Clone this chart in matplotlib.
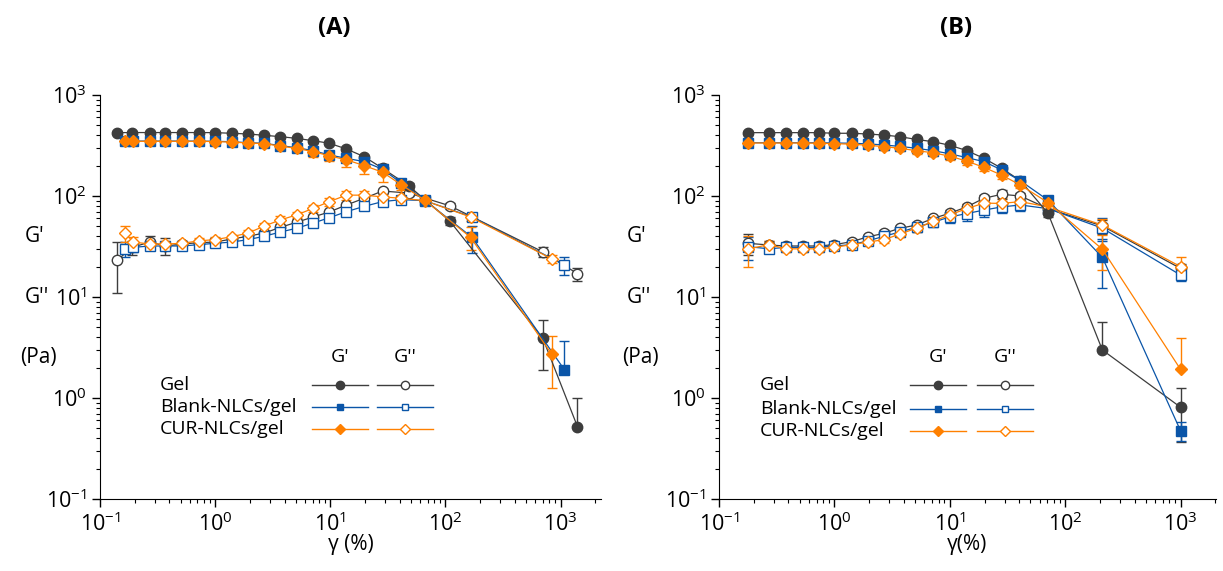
import numpy as np
import matplotlib.pyplot as plt

plt.rcParams['font.family'] = ['Open Sans', 'DejaVu Sans']
plt.rcParams['axes.unicode_minus'] = False

# ---------------- panel A ----------------
xa_gel = [0.14, 0.19, 0.27, 0.37, 0.52, 0.72, 1.0, 1.39, 1.94, 2.67, 3.69, 5.1, 7.1, 9.8,
          13.8, 19.7, 28.4, 48, 109, 700, 1400]
xa_blank = [0.165, 0.194, 0.27, 0.37, 0.52, 0.72, 1.0, 1.39, 1.94, 2.67, 3.69, 5.1, 7.1, 9.8,
            13.8, 19.7, 28.4, 41, 66, 170, 1080]
xa_cur = [0.165, 0.194, 0.27, 0.37, 0.52, 0.72, 1.0, 1.39, 1.94, 2.67, 3.69, 5.1, 7.1, 9.8,
          13.8, 19.7, 28.4, 41, 66, 165, 840]

a_gel_g1 = [424, 425, 425, 425, 425, 425, 424, 418, 411, 399, 387, 372, 353, 333, 292, 245, 188, 126, 56.5, 3.9, 0.52]
a_gel_g1_err = [15, 15, 15, 15, 15, 15, 15, 15, 15, 15, 15, 15, 15, 15, 15, 12, 10, 8, 5, 2.0, 0.48]
a_gel_g2 = [23, 31, 35, 32, 33.5, 34.5, 35, 37.5, 40, 43, 49, 55, 62, 69.5, 81.5, 95, 112, 107, 80, 28, 17]
a_gel_g2_err = [12, 5, 5, 6, 2, 2, 2, 2, 2, 2, 2, 3, 3, 3, 4, 5, 6, 6, 5, 3, 2.5]

a_blank_g1 = [351, 350, 350, 350, 350, 350, 348, 345, 337, 333, 315, 301, 281, 255, 236, 219, 184, 135, 91, 39, 1.9]
a_blank_g1_err = [20, 20, 20, 20, 20, 20, 20, 20, 20, 20, 20, 20, 20, 20, 20, 20, 15, 10, 6, 12, 1.8]
a_blank_g2 = [30, 31, 32, 32, 32, 33, 34, 35, 37, 40, 44, 48, 54, 61, 70, 79, 88, 92, 90, 62, 20.7]
a_blank_g2_err = [5, 3, 2, 2, 2, 2, 2, 2, 2, 2, 3, 3, 3, 4, 5, 5, 6, 6, 6, 5, 4]

a_cur_g1 = [350, 348, 348, 348, 348, 348, 346, 342, 335, 330, 312, 296, 275, 250, 228, 200, 172, 130, 91, 39, 2.7]
a_cur_g1_err = [25, 25, 25, 25, 25, 25, 25, 25, 25, 25, 25, 25, 30, 30, 35, 35, 35, 15, 8, 10, 1.45]
a_cur_g2 = [43, 35, 33.5, 33.5, 34, 36, 37, 39.5, 43, 50.5, 58, 65, 75.5, 88, 102, 102, 98, 95, 90, 62, 23.8]
a_cur_g2_err = [8, 4, 2, 2, 2, 2, 2, 2, 3, 4, 5, 5, 6, 8, 10, 10, 8, 6, 6, 5, 2]

# ---------------- panel B ----------------
xb = [0.18, 0.272, 0.38, 0.53, 0.73, 1.0, 1.41, 1.96, 2.7, 3.69, 5.15, 7.17, 10, 14,
      19.8, 28.2, 40.9, 71, 210, 1000]

b_gel_g1 = [424, 424, 424, 424, 424, 418, 418, 411, 401, 387, 363, 345, 318, 282, 236, 188, 142, 67.5, 2.99, 0.81]
b_gel_g1_err = [15, 15, 15, 15, 15, 15, 15, 15, 15, 15, 15, 15, 15, 15, 12, 10, 8, 5, 2.7, 0.44]
b_gel_g2 = [34, 32.7, 32, 32, 32, 33, 35.3, 39.5, 42.7, 47.9, 51.6, 60, 67.5, 78, 95, 104, 100, 75, 50.5, 19.2]
b_gel_g2_err = [8, 3, 2, 2, 2, 2, 2, 2, 3, 3, 3, 4, 5, 6, 8, 10, 8, 6, 8, 2]

b_blank_g1 = [337, 337, 337, 337, 337, 335, 333, 328, 320, 310, 297, 281, 262, 240, 219, 181, 141.6, 91, 24.7, 0.474]
b_blank_g1_err = [20, 20, 20, 20, 20, 20, 20, 20, 20, 20, 20, 20, 20, 20, 15, 12, 8, 6, 12.5, 0.1]
b_blank_g2 = [31.5, 30, 31, 31, 31, 32, 33, 36, 40, 44, 49, 55, 62, 67, 72.6, 78, 81.5, 75, 48, 16.5]
b_blank_g2_err = [8, 3, 2, 2, 2, 2, 2, 3, 3, 4, 5, 6, 8, 10, 10, 10, 10, 6, 12, 2]

b_cur_g1 = [335, 335, 335, 335, 333, 330, 326, 318, 308, 297, 281, 268, 248, 222, 192, 161, 128.5, 86, 29.7, 1.92]
b_cur_g1_err = [20, 20, 20, 20, 20, 20, 20, 20, 20, 20, 20, 20, 20, 20, 15, 12, 8, 6, 11, 2.03]
b_cur_g2 = [30, 33, 30, 30, 30, 31, 33, 35, 37, 42, 48, 56, 65, 75, 85, 84.5, 88, 78, 51.6, 20]
b_cur_g2_err = [10, 3, 2, 2, 2, 2, 2, 2, 3, 3, 4, 5, 6, 8, 10, 10, 8, 6, 8, 5]

samples = ["Gel", "Blank-NLCs/gel", "CUR-NLCs/gel"]
colors = ["#3d3d3d", "#0a55a8", "#ff8000"]
markers = ["o", "s", "D"]
msizes = [7.5, 6.5, 6.5]


def draw(ax, x, y, err, i, filled):
    y = np.asarray(y, dtype=float)
    err = np.asarray(err, dtype=float)
    # lower bar dropped when it would run off the log axis (as in the original)
    lo = np.where(y - err > 0.2 * y, err, 0.0)
    c = colors[i]
    ax.errorbar(x, y, yerr=[lo, err], color=c, lw=0.9, marker=markers[i], ms=msizes[i],
                mfc=c if filled else "white", mec=c, mew=1.0, capsize=3.5,
                elinewidth=1.0, capthick=1.0, zorder=3 if filled else 2)


def legend(ax, x_text, x_g1, x_g2, y_head, ys):
    half = 0.056
    ax.text(x_g1, y_head, "G'", transform=ax.transAxes, ha="center", va="center", fontsize=14)
    ax.text(x_g2, y_head, "G''", transform=ax.transAxes, ha="center", va="center", fontsize=14)
    for i, name in enumerate(samples):
        yy = ys[i]
        ax.text(x_text, yy, name, transform=ax.transAxes, ha="left", va="center", fontsize=14)
        for xc, filled in ((x_g1, True), (x_g2, False)):
            ax.plot([xc - half, xc, xc + half], [yy, yy, yy], transform=ax.transAxes,
                    color=colors[i], lw=1.0, marker=markers[i], markevery=[1],
                    ms=msizes[i] - 1.5, mfc=colors[i] if filled else "white",
                    mec=colors[i], mew=1.0, clip_on=False)


def style(ax, xmax, xlabel):
    ax.set_xscale("log")
    ax.set_yscale("log")
    ax.set_xlim(0.1, xmax)
    ax.set_ylim(0.1, 1000)
    ax.spines["top"].set_visible(False)
    ax.spines["right"].set_visible(False)
    ax.tick_params(which="major", length=6, width=1.0, labelsize=15.5, direction="out")
    ax.tick_params(which="minor", length=3, width=0.8, direction="out")
    ax.set_xlabel(xlabel, fontsize=15, labelpad=-1)


fig = plt.figure(figsize=(12.23, 5.71), dpi=100)
axA = fig.add_axes([0.0818, 0.1261, 0.4096, 0.7075])
axB = fig.add_axes([0.5879, 0.1261, 0.4064, 0.7075])

draw(axA, xa_gel, a_gel_g2, a_gel_g2_err, 0, False)
draw(axA, xa_blank, a_blank_g2, a_blank_g2_err, 1, False)
draw(axA, xa_cur, a_cur_g2, a_cur_g2_err, 2, False)
draw(axA, xa_gel, a_gel_g1, a_gel_g1_err, 0, True)
draw(axA, xa_blank, a_blank_g1, a_blank_g1_err, 1, True)
draw(axA, xa_cur, a_cur_g1, a_cur_g1_err, 2, True)

draw(axB, xb, b_gel_g2, b_gel_g2_err, 0, False)
draw(axB, xb, b_blank_g2, b_blank_g2_err, 1, False)
draw(axB, xb, b_cur_g2, b_cur_g2_err, 2, False)
draw(axB, xb, b_gel_g1, b_gel_g1_err, 0, True)
draw(axB, xb, b_blank_g1, b_blank_g1_err, 1, True)
draw(axB, xb, b_cur_g1, b_cur_g1_err, 2, True)

style(axA, 2240, "\u03b3 (%)")
style(axB, 2030, "\u03b3(%)")

fig.text(334 / 1223, 1 - 28 / 571, "(A)", ha="center", va="center", fontsize=17, fontweight="bold")
fig.text(956 / 1223, 1 - 28 / 571, "(B)", ha="center", va="center", fontsize=17, fontweight="bold")

legend(axA, 0.12, 0.479, 0.609, 0.351, [0.282, 0.228, 0.173])
legend(axB, 0.0825, 0.44, 0.575, 0.351, [0.282, 0.223, 0.168])

# y-axis caption (G', G'', (Pa)) written to the left of the ticks
for ax, xg, xp in ((axA, -0.15, -0.16), (axB, -0.185, -0.195)):
    ax.text(xg, 0.649, "G'", transform=ax.transAxes, ha="left", va="center", fontsize=15)
    ax.text(xg, 0.5, "G''", transform=ax.transAxes, ha="left", va="center", fontsize=15)
    ax.text(xp, 0.351, "(Pa)", transform=ax.transAxes, ha="left", va="center", fontsize=15)

fig.savefig("out.png", dpi=100)
